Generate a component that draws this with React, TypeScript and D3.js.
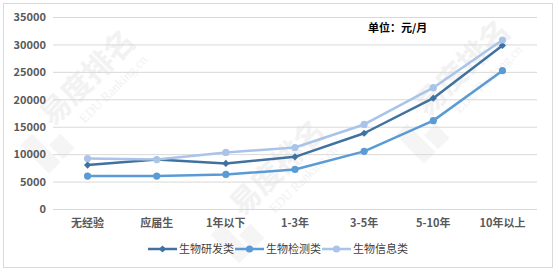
import React from "react";
import * as d3 from "d3";

const categories = ["无经验", "应届生", "1年以下", "1-3年", "3-5年", "5-10年", "10年以上"];
const seriesNames = ["生物研发类", "生物检测类", "生物信息类"];
const researchValues = [8100, 9100, 8400, 9600, 13900, 20300, 29900];
const testingValues = [6100, 6100, 6400, 7300, 10600, 16200, 25300];
const infoValues = [9300, 9100, 10400, 11300, 15500, 22200, 30900];
const yTicks = [0, 5000, 10000, 15000, 20000, 25000, 30000, 35000];
const unitLabel = "单位：元/月";

const colors = ["#41729f", "#5b9bd5", "#a9c4e8"];
const markers = ["diamond", "circle", "circle"];

export default function App() {
  const W = 559, H = 274;
  const left = 53, right = 537, top = 17.5, bottom = 209.5;
  const x = d3.scaleBand().domain(categories).range([left, right]);
  const y = d3.scaleLinear().domain([0, 35000]).range([bottom, top]);
  const cx = (c: string) => (x(c) as number) + x.bandwidth() / 2;
  const all = [researchValues, testingValues, infoValues];
  const line = d3.line<number>().x((_, i) => cx(categories[i])).y((v) => y(v));
  const font = "'Microsoft YaHei', 'Noto Sans CJK SC', 'Noto Sans', sans-serif";
  const diamond = d3.symbol().type(d3.symbolSquare).size(26)() as string;

  const legendItems = [
    { lx: 148, tx: 179 },
    { lx: 235, tx: 266 },
    { lx: 322, tx: 353 },
  ];

  const watermarks = [
    { x: 95, y: 85 },
    { x: 285, y: 175 },
    { x: 470, y: 75 },
  ];

  return (
    <svg width={W} height={H} style={{ position: "absolute", left: 0, top: 0 }} fontFamily={font}>
      <rect x={0} y={0} width={W} height={H} fill="#fff" />
      <rect x={3.5} y={3.5} width={549} height={264} fill="#fff" stroke="#d9d9d9" />
      {watermarks.map((w, i) => (
        <g key={i} transform={`translate(${w.x},${w.y}) rotate(-45)`} opacity={0.5}>
          <text x={0} y={0} fontSize={30} fontWeight="bold" fill="#e6e6e6" textAnchor="middle">易度排名</text>
          <text x={10} y={20} fontSize={13} fill="#e6e6e6" textAnchor="middle" fontFamily="'Liberation Serif', serif">EDU Ranking.cn</text>
          <rect x={-95} y={-10} width={16} height={40} fill="#ececec" />
          <rect x={-75} y={10} width={16} height={20} fill="#ececec" />
        </g>
      ))}
      {yTicks.map((t) => (
        <g key={t}>
          <line x1={left} x2={right} y1={y(t)} y2={y(t)} stroke="#d9d9d9" strokeWidth={1} />
          <text x={46} y={y(t)} dy="0.35em" textAnchor="end" fontSize={11} fontWeight="bold" fill="#595959">{t}</text>
        </g>
      ))}
      {categories.map((c) => (
        <text key={c} x={cx(c)} y={227} textAnchor="middle" fontSize={11} fontWeight="bold" fill="#595959">{c}</text>
      ))}
      {all.map((vals, si) => (
        <g key={si}>
          <path d={line(vals) as string} fill="none" stroke={colors[si]} strokeWidth={2.5} strokeLinejoin="round" strokeLinecap="round" />
          {vals.map((v, i) =>
            markers[si] === "diamond" ? (
              <path key={i} d={diamond} transform={`translate(${cx(categories[i])},${y(v)}) rotate(45)`} fill={colors[si]} />
            ) : (
              <circle key={i} cx={cx(categories[i])} cy={y(v)} r={3.6} fill={colors[si]} />
            )
          )}
        </g>
      ))}
      <text x={368} y={32} fontSize={11} fontWeight="bold" fill="#000">{unitLabel}</text>
      {seriesNames.map((n, si) => {
        const it = legendItems[si];
        return (
          <g key={n}>
            <line x1={it.lx} x2={it.lx + 29} y1={249} y2={249} stroke={colors[si]} strokeWidth={2.5} />
            {markers[si] === "diamond" ? (
              <path d={diamond} transform={`translate(${it.lx + 14.5},249) rotate(45)`} fill={colors[si]} />
            ) : (
              <circle cx={it.lx + 14.5} cy={249} r={3.6} fill={colors[si]} />
            )}
            <text x={it.tx} y={249} dy="0.35em" fontSize={11} fill="#404040">{n}</text>
          </g>
        );
      })}
    </svg>
  );
}
